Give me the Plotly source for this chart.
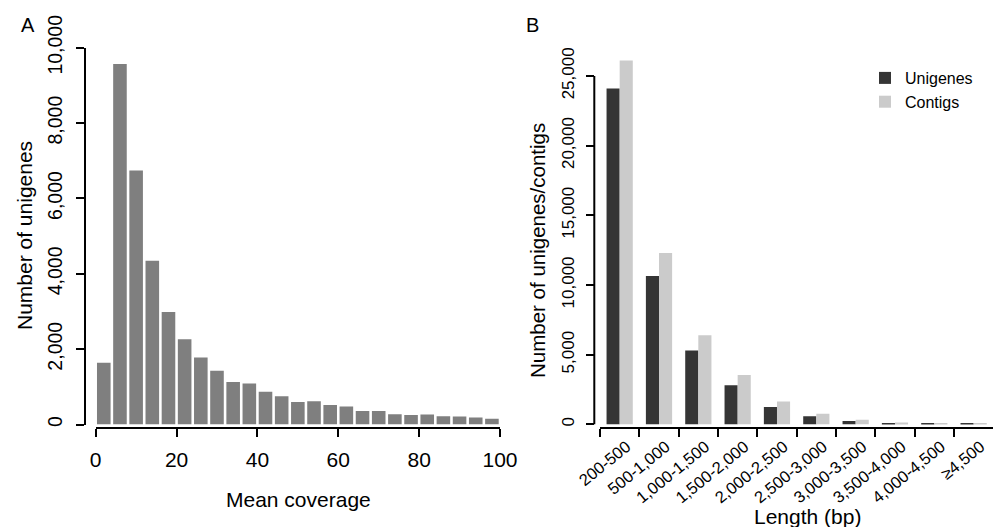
import plotly.graph_objects as go

# ---------------- Data ----------------
# Panel A: histogram of mean coverage (bin starts, width 4)
coverage_bin_starts = [0, 4, 8, 12, 16, 20, 24, 28, 32, 36, 40, 44, 48,
                       52, 56, 60, 64, 68, 72, 76, 80, 84, 88, 92, 96]
coverage_bin_width = 4
unigene_counts = [1640, 9570, 6740, 4345, 2985, 2265, 1780, 1425, 1125, 1085,
                  870, 750, 600, 615, 515, 480, 360, 355, 270, 255,
                  265, 220, 215, 185, 150]
a_xticks = [0, 20, 40, 60, 80, 100]
a_yticks = [0, 2000, 4000, 6000, 8000, 10000]

# Panel B: length distribution
length_bins = ["200-500", "500-1,000", "1,000-1,500", "1,500-2,000", "2,000-2,500",
               "2,500-3,000", "3,000-3,500", "3,500-4,000", "4,000-4,500", "≥4,500"]
unigenes = [24100, 10650, 5300, 2810, 1250, 580, 250, 100, 50, 45]
contigs = [26100, 12300, 6400, 3550, 1650, 770, 330, 140, 45, 45]
b_yticks = [0, 5000, 10000, 15000, 20000, 25000]

# ---------------- Layout helpers (pixel -> paper) ----------------
W, H = 1003, 527
def px(x):
    return x / W
def py(y):
    return 1 - y / H

FONT = "Liberation Sans, Arial, sans-serif"

fig = go.Figure()

# Panel A bars
fig.add_trace(go.Bar(
    x=[s + coverage_bin_width / 2 for s in coverage_bin_starts],
    y=unigene_counts,
    width=coverage_bin_width * 0.84,
    marker=dict(color="#7f7f7f", line=dict(width=0)),
    xaxis="x", yaxis="y", showlegend=False, hoverinfo="x+y",
))

# Panel B bars
fig.add_trace(go.Bar(
    x=length_bins, y=unigenes, name="Unigenes",
    marker=dict(color="#353535", line=dict(width=0)),
    xaxis="x2", yaxis="y2",
))
fig.add_trace(go.Bar(
    x=length_bins, y=contigs, name="Contigs",
    marker=dict(color="#cbcbcb", line=dict(width=0)),
    xaxis="x2", yaxis="y2",
))

axis_common = dict(
    ticks="outside", ticklen=8, tickwidth=2, tickcolor="black",
    linecolor="black", linewidth=2, showgrid=False, zeroline=False,
    automargin=False,
)

b_top_value = 26500
b_y0_px = 424.4
b_px_per_unit = 69.7 / 5000
b_top_px = b_y0_px - b_top_value * b_px_per_unit

fig.update_layout(
    width=W, height=H,
    margin=dict(l=0, r=0, t=0, b=0),
    paper_bgcolor="white", plot_bgcolor="white",
    font=dict(family=FONT, color="black", size=19),
    barmode="group", bargap=1/3, bargroupgap=0,
    xaxis=dict(
        **axis_common, domain=[px(95.7), px(500)], range=[0, 100],
        tickvals=a_xticks, showline=True, anchor="free", position=py(428),
        tickfont=dict(size=21), ticklabelstandoff=5,
    ),
    yaxis=dict(
        **axis_common, domain=[py(424.5), py(47.7)], range=[0, 10000],
        tickvals=a_yticks, tickformat=",", tickangle=-90, showline=True,
        anchor="free", position=px(85), tickfont=dict(size=19.5),
        ticklabelstandoff=6,
    ),
    xaxis2=dict(
        **axis_common, domain=[px(600), px(993.3)], range=[-0.5, 9.5],
        type="category", tickson="boundaries", tickangle=-39, showline=True,
        anchor="free", position=py(427.7), tickfont=dict(size=16.5),
        ticklabelstandoff=2, ticklabelshift=7,
    ),
    yaxis2=dict(
        **axis_common, domain=[py(b_y0_px), py(b_top_px)], range=[0, b_top_value],
        tickvals=b_yticks, tickformat=",", tickangle=-90, showline=False,
        anchor="free", position=px(594.3), tickfont=dict(size=17),
        ticklabelstandoff=6,
    ),
    legend=dict(
        x=px(865), y=py(61), xanchor="left", yanchor="top",
        font=dict(size=16), bgcolor="rgba(0,0,0,0)", tracegroupgap=0,
    ),
    shapes=[
        dict(type="line", xref="paper", yref="y2",
             x0=px(594.3), x1=px(594.3), y0=min(b_yticks), y1=max(b_yticks),
             line=dict(color="black", width=2)),
    ],
    annotations=[
        dict(text="A", x=px(28), y=py(25), xref="paper", yref="paper",
             showarrow=False, font=dict(size=20), xanchor="center", yanchor="middle"),
        dict(text="B", x=px(532.5), y=py(25), xref="paper", yref="paper",
             showarrow=False, font=dict(size=20), xanchor="center", yanchor="middle"),
        dict(text="Number of unigenes", x=px(25), y=py(236), xref="paper", yref="paper",
             showarrow=False, textangle=-90, font=dict(size=21),
             xanchor="center", yanchor="middle"),
        dict(text="Mean coverage", x=px(298), y=py(499), xref="paper", yref="paper",
             showarrow=False, font=dict(size=21), xanchor="center", yanchor="middle"),
        dict(text="Number of unigenes/contigs", x=px(537), y=py(251), xref="paper",
             yref="paper", showarrow=False, textangle=-90, font=dict(size=20.5),
             xanchor="center", yanchor="middle"),
        dict(text="Length (bp)", x=px(807), y=py(516), xref="paper", yref="paper",
             showarrow=False, font=dict(size=21), xanchor="center", yanchor="middle"),
    ],
)

fig.write_html("out.html", post_script="document.body.style.margin='0';",
               config={"displayModeBar": False})
